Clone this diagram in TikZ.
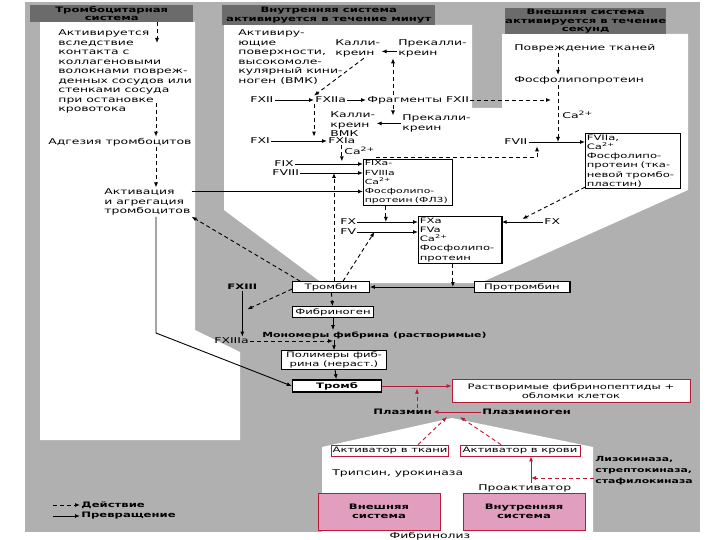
\documentclass[tikz,border=0pt]{standalone}
\usepackage{fontspec}
\setmainfont{DejaVu Sans}[FakeStretch=1.55]
\usetikzlibrary{calc,positioning,arrows.meta}

\definecolor{bggray}{gray}{0.69}
\definecolor{hdgray}{gray}{0.42}
\definecolor{fred}{RGB}{185,25,55}
\definecolor{fpink}{RGB}{226,158,190}

\tikzset{
  lbl/.style={inner sep=1.2pt, font=\fontsize{8}{9.5}\selectfont, align=left},
  blbl/.style={inner sep=1.2pt, font=\fontsize{7.5}{9.5}\selectfont\bfseries, align=left},
  box/.style={draw, fill=white, line width=0.7pt, inner sep=1.5pt, font=\fontsize{7.5}{9.2}\selectfont, align=left},
  rbox/.style={box, draw=fred, align=center},
  hdr/.style={fill=hdgray, inner sep=0pt, font=\fontsize{7.5}{8.5}\selectfont\bfseries, align=center, anchor=north west},
  act/.style={-{Latex[length=5pt,width=4pt]}, line width=0.9pt, dash pattern=on 4pt off 3pt},
  conv/.style={-{Latex[length=5pt,width=4pt]}, line width=0.9pt},
  ract/.style={act, fred},
  rconv/.style={conv, fred}
}

\begin{document}
\begin{tikzpicture}[x=1pt,y=-1pt]
    \useasboundingbox (0,0) rectangle (720,540);

    % Draw gray background and the white panels
    \fill[bggray] (25,2) rectangle (700,532);
    \fill[white] (40,22) -- (195,22) -- (195,330) -- (240,352) -- (240,440) -- (40,440) -- cycle;
    \fill[white] (224,25) -- (472,25) -- (472,108) -- (502,108) -- (502,34) -- (688,34)
        -- (688,190) -- (480,283) -- (322,283) -- (224,210) -- cycle;
    \fill[white] (322,447) -- (452,418) -- (593,447) -- (593,532) -- (322,532) -- cycle;

    % Headers of the three systems
    \node[hdr, minimum width=163, minimum height=17] (hdL) at (30,5) {Тромбоцитарная\\система};
    \node[hdr, minimum width=213, minimum height=20] (hdM) at (222,5) {Внутренняя система\\активируется в течение минут};
    \node[hdr, minimum width=160, minimum height=26] (hdR) at (505,8) {Внешняя система\\активируется в течение\\секунд};

    % Platelet column
    \node[lbl, anchor=north west] (actv) at (57,28.5) {Активируется\\вследствие\\контакта с\\коллагеновыми\\волокнами повреж-\\денных сосудов или\\стенками сосуда\\при остановке\\кровотока};
    \node[lbl, anchor=west] (adh) at (47,142) {Адгезия тромбоцитов};
    \node[lbl, anchor=north west] (agg) at (103,187.5) {Активация\\и агрегация\\тромбоцитов};
    \coordinate (s1) at (157,43);
    \coordinate (s2) at (156,103);
    \draw[act] (hdL.south -| s1) -- (s1);
    \draw[act] (s2) -- (adh.north -| s2);
    \draw[act] (adh.south -| s2) -- (agg.north -| s2);

    % Intrinsic system
    \node[lbl, anchor=north west] (surf) at (237,28.5) {Активиру-\\ющие\\поверхности,\\высокомоле-\\кулярный кини-\\ноген (ВМК)};
    \node[lbl, anchor=north west] (kal1) at (334,38.5) {Калли-\\креин};
    \node[lbl, anchor=north west] (pkal1) at (397,38.5) {Прекалли-\\креин};
    \node[lbl, anchor=west] (fxii) at (249,100) {FXII};
    \node[lbl, anchor=west] (fxiia) at (314,100) {FXIIa};
    \node[lbl, anchor=west] (frag) at (366,100) {Фрагменты FXII};
    \node[lbl, anchor=north west] (kal2) at (329,110.5) {Калли-\\креин\\ВМК};
    \node[lbl, anchor=north west] (pkal2) at (401,113.5) {Прекалли-\\креин};
    \node[lbl, anchor=west] (fxi) at (249,141) {FXI};
    \node[lbl, anchor=west] (fxia) at (327,141) {FXIa};
    \node[lbl, anchor=west] (ca1) at (343,151) {Ca\textsuperscript{2+}};
    \node[lbl, anchor=west] (fix) at (273,164) {FIX};
    \node[lbl, anchor=west] (fviii) at (271,173) {FVIII};
    \node[box, anchor=north west, text width=86, font=\fontsize{7}{9.2}\selectfont] (tenase) at (363,159) {FIXa-\\FVIIIa\\Ca\textsuperscript{2+}\\Фосфолипо-\\протеин (ФЛ3)};
    \node[lbl, anchor=west] (fx) at (339,222) {FX};
    \node[lbl, anchor=west] (fv) at (339,232) {FV};
    \node[box, anchor=north west, text width=80] (pase) at (418,216) {FXa\\FVa\\Ca\textsuperscript{2+}\\Фосфолипо-\\протеин};
    \draw[line width=2pt] (pase.north east) -- (pase.south east);

    \coordinate (f1) at (393,100);
    \draw[conv] ([yshift=-3pt]pkal1.west) -- ([yshift=-3pt]kal1.east);
    \draw[act] ([xshift=6pt]kal1.south) -- (fxiia.north west);
    \draw[conv] (fxii) -- (fxiia);
    \draw[conv] (fxiia) -- (frag);
    \draw[act] (frag.north -| f1) -- (pkal1.south -| f1);
    \draw[act] (frag.south -| f1) -- ([yshift=-2pt]pkal2.north -| f1);
    \draw[conv] (pkal2.west) -- (pkal2.west -| kal2.east);
    \draw[act] (fxiia.south west) -- (fxiia.south west |- fxia.north);
    \draw[conv] (fxi) -- (fxia);
    \draw[act] (fxia.south) -- ++(0,16);
    \draw[conv] (fix) -- (fix -| tenase.west);
    \draw[conv] (fviii) -- (fviii -| tenase.west);
    \draw[conv] ([yshift=-4pt]agg.north east) -- ([yshift=-4pt]agg.north east -| tenase.west);
    \draw[act] ([xshift=-22pt]tenase.south) -- ([xshift=-22pt]tenase.south |- fx);
    \draw[conv] (fx) -- (fx -| pase.west);
    \draw[conv] (fv) -- (fv -| pase.west);

    % Extrinsic system
    \node[lbl, anchor=west] (tis) at (513,48) {Повреждение тканей};
    \node[lbl, anchor=west] (pl) at (513,80) {Фосфолипопротеин};
    \node[lbl, anchor=west] (ca2) at (561,115) {Ca\textsuperscript{2+}};
    \node[lbl, anchor=west] (fvii) at (503,142) {FVII};
    \node[box, anchor=north west, text width=92] (tf) at (585,133) {FVIIa,\\Ca\textsuperscript{2+}\\Фосфолипо-\\протеин (тка-\\невой тромбо-\\пластин)};
    \node[lbl, anchor=west] (fx2) at (543,222) {FX};
    \coordinate (rx) at (558,60);
    \coordinate (fb) at (537,157);
    \draw[act] (tis.south -| rx) -- (pl.north -| rx);
    \draw[act] (pl.south -| rx) -- (fvii -| rx);
    \draw[act, shorten >=7pt] (frag.east) -- (frag.east -| rx);
    \draw[conv] (fvii) -- (fvii -| tf.west);
    \draw[act] (ca1.east |- fb) -- (fb) -- (fb |- fvii.south);
    \draw[conv] (fx2) -- (fx2 -| pase.east);
    \draw[act] ([yshift=2pt]tf.south west) -- ($(fx2.west)!0.5!(fx2.west -| pase.east)+(0,-3)$);

    % Thrombin and fibrin
    \node[box, minimum width=77, minimum height=11, inner sep=1pt, align=center] (thr) at (331,287) {Тромбин};
    \node[box, minimum width=95, minimum height=11, inner sep=1pt, align=center] (pthr) at (522,287) {Протромбин};
    \draw[line width=2pt] (pthr.north east) -- (pthr.south east);
    \node[blbl, anchor=west] (fxiii) at (226,287) {FXIII};
    \node[box, minimum width=81, minimum height=11, inner sep=1pt, align=center] (fbg) at (333,312) {Фибриноген};
    \node[blbl, anchor=west, font=\fontsize{7}{9}\selectfont\bfseries] (mono) at (261,335) {Мономеры фибрина (растворимые)};
    \node[lbl, anchor=west] (fxiiia) at (213,341) {FXIIIa};
    \node[box, minimum width=105, inner sep=1pt, align=center] (poly) at (334,360) {Полимеры фиб-\\рина (нераст.)};
    \node[box, line width=1.5pt, minimum width=89, minimum height=12, inner sep=1pt, align=center, font=\fontsize{7.5}{9}\selectfont\bfseries] (clot) at (337,386) {Тромб};
    \coordinate (k1) at (156,333);

    \draw[act] ([xshift=3pt]thr.north) -- ([xshift=3pt]thr.north |- fviii);
    \draw[act] ([xshift=12pt]thr.north) -- ([xshift=17pt]fv.east);
    \draw[act] ([xshift=8pt]thr.north west) -- (agg.south east);
    \draw[act] ([xshift=-7pt]pase.south) -- ([xshift=-7pt]pase.south |- thr);
    \draw[conv] (pthr) -- (thr);
    \draw[conv] (fxiii.south) -- (fxiii.south |- fxiiia.north);
    \draw[act] ([yshift=-2pt]thr.west) -- ($(fxiii.south)!0.4!(fxiii.south |- fxiiia.north)+(5,0)$);
    \draw[act] (thr) -- (fbg);
    \draw[conv] (fbg.south) -- (fbg.south |- mono.north);
    \draw[act] (fxiiia.east) -- (fxiiia.east -| fbg.south);
    \draw[conv] (poly.north |- mono.south) -- (poly.north);
    \draw[conv] (poly) -- (clot);
    \draw[conv] (agg.south -| k1) -- (k1) -- (clot.west);

    % Fibrinolysis
    \node[rbox, minimum width=238, minimum height=23] (fdp) at (571,391) {Растворимые фибринопептиды +\\обломки клеток};
    \node[blbl, anchor=west] (plasmin) at (372,412) {Плазмин};
    \node[blbl, anchor=west] (plg) at (481,412) {Плазминоген};
    \node[rbox, minimum width=116, minimum height=11, inner sep=1pt] (tact) at (390,450.5) {Активатор в ткани};
    \node[rbox, minimum width=120, minimum height=11, inner sep=1pt] (bact) at (520,450.5) {Активатор в крови};
    \node[lbl, anchor=west] (trip) at (331,473) {Трипсин, урокиназа};
    \node[lbl, anchor=west] (proact) at (477,488) {Проактиватор};
    \node[blbl, anchor=north west, font=\fontsize{7}{11}\selectfont\bfseries] (lyso) at (594,455) {Лизокиназа,\\стрептокиназа,\\стафилокиназа};
    \node[rbox, fill=fpink, minimum width=122, minimum height=37, font=\fontsize{7.5}{9.5}\selectfont\bfseries] (ext) at (379,511.5) {Внешняя\\система};
    \node[rbox, fill=fpink, minimum width=122, minimum height=37, font=\fontsize{7.5}{9.5}\selectfont\bfseries] (int) at (524,511.5) {Внутренняя\\система};
    \node[lbl] (fibl) at (430,536) {Фибринолиз};
    \coordinate (mid) at ($(clot.east)!0.5!(fdp.west)$);
    \coordinate (pm) at (452,417);
    \coordinate (pa) at (531,478);

    \draw[rconv] (clot.east) -- (clot.east -| fdp.west);
    \draw[ract] (plasmin.north -| mid) -- (mid);
    \draw[rconv] (plg) -- (plasmin);
    \draw[ract] ([xshift=28pt]tact.north) -- ([xshift=-5pt]pm);
    \draw[ract] ([xshift=-19pt]bact.north) -- ([xshift=8pt]pm);
    \draw[rconv] (proact.north -| pa) -- (bact.south -| pa);
    \draw[ract] (lyso.west |- pa) -- (pa);

    % Legend
    \coordinate (l1) at (53,505);
    \coordinate (l2) at (53,516);
    \node[blbl, anchor=west] (ldo) at (80,505) {Действие};
    \node[blbl, anchor=west] (lpr) at (80,516) {Превращение};
    \draw[act] (l1) -- (ldo.west);
    \draw[conv] (l2) -- (lpr.west);
\end{tikzpicture}
\end{document}
